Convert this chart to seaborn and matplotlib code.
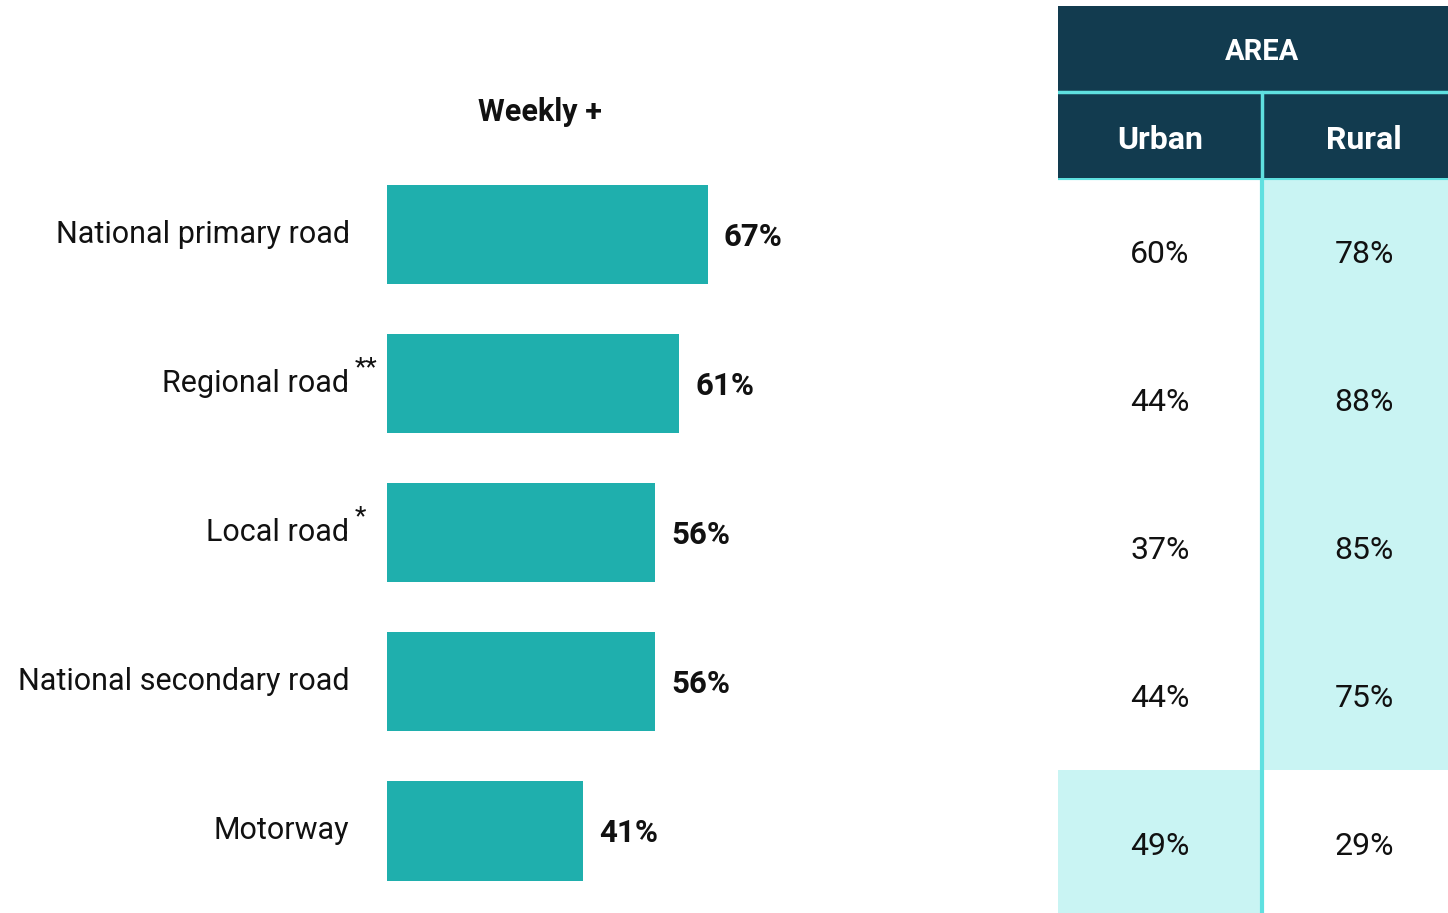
import numpy as np
import pandas as pd
import matplotlib
matplotlib.use("Agg")
import matplotlib.pyplot as plt
import matplotlib.transforms as mtransforms
from matplotlib.colors import ListedColormap
import seaborn as sns

# ---- data ----
roads = ["National primary road", "Regional road", "Local road",
         "National secondary road", "Motorway"]
marks = ["", "**", "*", "", ""]
weekly = [67, 61, 56, 56, 41]
urban = [60, 44, 37, 44, 49]
rural = [78, 88, 85, 75, 29]
col_labels = ["Urban", "Rural"]
group_label = "AREA"
title = "Weekly +"

# ---- style ----
sns.set_theme(style="white")
FONT = ["Roboto", "DejaVu Sans"]
plt.rcParams["font.family"] = FONT

BAR = "#1fafad"
DARK = "#123b4f"
CYAN = "#5fe0e0"
LIGHT = "#c9f4f3"
TXT = "#111111"

W, H = 1448, 913
fig = plt.figure(figsize=(W / 100, H / 100), dpi=100)


def px_axes(x0, y0, x1, y1):
    return fig.add_axes([x0 / W, 1 - y1 / H, (x1 - x0) / W, (y1 - y0) / H])


# ---- bar chart ----
ax = px_axes(387, 160, 866, 905.5)
df = pd.DataFrame({"road": roads, "weekly": weekly})
sns.barplot(data=df, x="weekly", y="road", color=BAR, saturation=1,
            width=0.665, ax=ax, orient="h", linewidth=0)
ax.set_xlim(0, 100)
ax.set_ylim(len(roads) - 0.5, -0.5)
ax.set_xlabel("")
ax.set_ylabel("")
ax.set_xticks([])
ax.set_yticks(range(len(roads)))
ax.set_yticklabels(roads, fontsize=22, color=TXT)
ax.tick_params(axis="y", length=0, pad=27)
for s in ax.spines.values():
    s.set_visible(False)
for lab in ax.get_yticklabels():
    lab.set_verticalalignment("center")

for i, (v, m) in enumerate(zip(weekly, marks)):
    off = mtransforms.offset_copy(ax.transData, fig=fig, x=11.5, y=-1.5, units="points")
    ax.text(v, i, f"{v}%", transform=off, ha="left", va="center",
            fontsize=22.5, fontweight="bold", color=TXT)
    if m:
        tr = mtransforms.blended_transform_factory(ax.transAxes, ax.transData)
        tr = mtransforms.offset_copy(tr, fig=fig, x=-23.5, y=11, units="points")
        ax.text(0, i, m, transform=tr, ha="left", va="center",
                fontsize=19, color=TXT)

fig.text(540 / W, 1 - 112 / H, title, ha="center", va="center",
         fontsize=22, fontweight="bold", color=TXT)

# ---- table header ----
axh = px_axes(1058, 6, 1466, 178)
axh.set_facecolor(DARK)
axh.set_xlim(0, 2)
axh.set_ylim(0, 2)
axh.set_xticks([])
axh.set_yticks([])
for s in axh.spines.values():
    s.set_visible(False)
axh.axhline(1, color=CYAN, lw=2.5)
axh.plot([1, 1], [0, 1], color=CYAN, lw=2.5)
axh.text(1, 1.47, group_label, ha="center", va="center", color="white",
         fontsize=21, fontweight="bold")
for j, c in enumerate(col_labels):
    axh.text(j + 0.5, 0.44, c, ha="center", va="center", color="white",
             fontsize=23, fontweight="bold")

# ---- table body ----
axt = px_axes(1058, 178, 1466, 918)
vals = np.array([urban, rural]).T
hi = (vals == vals.max(axis=1, keepdims=True)).astype(int)
annot = np.array([[f"{v}%" for v in row] for row in vals])
sns.heatmap(hi, ax=axt, cmap=ListedColormap(["white", LIGHT]), cbar=False,
            annot=annot, fmt="", vmin=0, vmax=1,
            annot_kws={"fontsize": 23, "color": TXT},
            xticklabels=False, yticklabels=False)
for t in axt.texts:
    x, y = t.get_position()
    t.set_position((x, y + 0.015))
axt.axvline(1, color=CYAN, lw=3)
axt.axhline(0, color=CYAN, lw=3)

fig.savefig("out.png", dpi=100)
